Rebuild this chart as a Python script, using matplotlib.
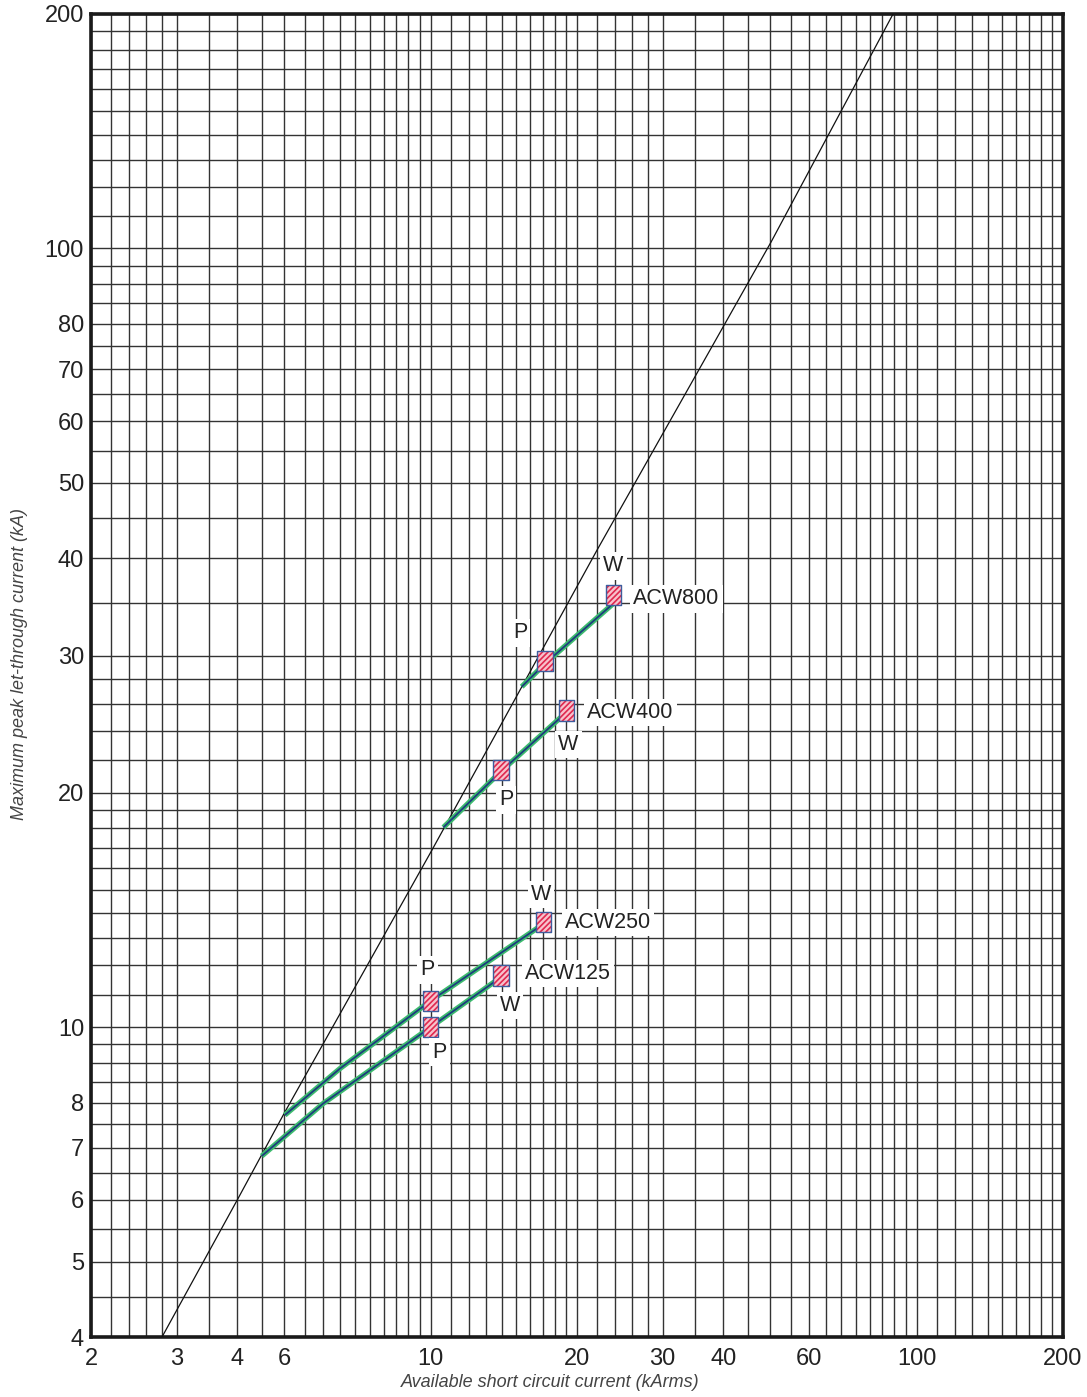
import numpy as np
import matplotlib
matplotlib.use('Agg')
import matplotlib.pyplot as plt
from matplotlib.ticker import FixedLocator, NullFormatter

plt.rcParams['font.family'] = ['Liberation Sans', 'DejaVu Sans']
plt.rcParams['hatch.color'] = '#e0284f'
plt.rcParams['hatch.linewidth'] = 1.2

# curva de pico asimetrico (linea diagonal)
diag_x = [2.8, 4.0, 5.0, 10.06, 22.0, 50.2, 89.4]
diag_y = [4.0, 6.0, 7.76, 16.88, 41.0, 102.0, 200.0]

# curvas de cada interruptor
nombres = ['ACW125', 'ACW250', 'ACW400', 'ACW800']
curva_x = [[4.49, 6.01, 10.0, 14.0],
           [5.01, 6.51, 10.0, 16.92],
           [10.62, 13.95, 19.06],
           [15.39, 17.19, 23.76]]
curva_y = [[6.83, 7.98, 10.0, 11.61],
           [7.71, 8.85, 10.81, 13.52],
           [18.05, 21.3, 25.4],
           [27.36, 29.3, 35.0]]

# puntos P y W
p_x = [10.0, 10.0, 13.95, 17.19]
p_y = [10.0, 10.81, 21.4, 29.54]
w_x = [13.95, 17.1, 19.0, 23.76]
w_y = [11.65, 13.66, 25.5, 35.9]

# ejes
x_ticks = [2, 3, 4, 5, 10, 20, 30, 40, 60, 100, 200]
x_ticklabels = ['2', '3', '4', '6', '10', '20', '30', '40', '60', '100', '200']
y_ticks = [4, 5, 6, 7, 8, 10, 20, 30, 40, 50, 60, 70, 80, 100, 200]

# lineas de la cuadricula
x_grid = np.concatenate([np.arange(2, 3, 0.2), np.arange(3, 10, 0.5), np.arange(10, 20, 1),
                         np.arange(20, 30, 2), np.arange(30, 100, 5), np.arange(100, 201, 10)])
y_grid = np.concatenate([np.arange(4, 10, 0.5), np.arange(10, 20, 1), np.arange(20, 30, 2),
                         np.arange(30, 100, 5), np.arange(100, 201, 10)])

# desplazamientos de los textos (pixeles, y hacia abajo)
off_nombre = [(24, -2), (21, 1), (21, 2), (20, 4)]
off_w = [(9, 30), (-3, -27), (2, 34), (0, -29)]
off_p = [(9, 25), (-3, -31), (5, 30), (-25, -28)]

fig = plt.figure(figsize=(10.87, 13.97), dpi=100)
ax = fig.add_axes([91/1087, 60/1397, 972/1087, 1323/1397])
ax.set_xscale('log')
ax.set_yscale('log')
ax.set_xlim(2, 200)
ax.set_ylim(4, 200)

ax.xaxis.set_major_locator(FixedLocator(x_ticks))
ax.set_xticklabels(x_ticklabels)
ax.yaxis.set_major_locator(FixedLocator(y_ticks))
ax.set_yticklabels([str(v) for v in y_ticks])
ax.xaxis.set_minor_locator(FixedLocator(x_grid))
ax.yaxis.set_minor_locator(FixedLocator(y_grid))
ax.xaxis.set_minor_formatter(NullFormatter())
ax.yaxis.set_minor_formatter(NullFormatter())
ax.tick_params(which='both', length=0, labelsize=17, colors='#222222')
ax.tick_params(axis='x', pad=8)
ax.tick_params(axis='y', pad=5)
ax.grid(which='both', color='#333333', linewidth=1.0)
ax.set_axisbelow(True)
for s in ax.spines.values():
    s.set_linewidth(2.6)
    s.set_color('#1a1a1a')

ax.plot(diag_x, diag_y, color='#111111', linewidth=0.9, zorder=3)

hatch_marker = [(-0.375, -0.5), (0.375, -0.5), (0.375, 0.5), (-0.375, 0.5), (-0.375, -0.5)]
for i in range(len(nombres)):
    ax.plot(curva_x[i], curva_y[i], color='#3dbb6e', linewidth=3.8, zorder=4, solid_capstyle='butt')
    ax.plot(curva_x[i], curva_y[i], color='#1d3c7e', linewidth=1.3, zorder=5, solid_capstyle='butt')

bx = p_x + w_x
by = p_y + w_y
ax.scatter(bx, by, marker=hatch_marker, s=210, facecolor='#f8c2cc', edgecolor='#e0284f',
           linewidth=0, hatch='//////', zorder=6)
ax.scatter(bx, by, marker=hatch_marker, s=210, facecolor='none', edgecolor='#3d5d9e',
           linewidth=1.0, zorder=7)

caja = dict(boxstyle='square,pad=0.15', fc='white', ec='none')
for i in range(len(nombres)):
    ax.annotate(nombres[i], (w_x[i], w_y[i]), xytext=(off_nombre[i][0], -off_nombre[i][1]),
                textcoords='offset pixels', ha='left', va='center', fontsize=15.5,
                color='#222222', bbox=caja, zorder=8)
    ax.annotate('W', (w_x[i], w_y[i]), xytext=(off_w[i][0], -off_w[i][1]),
                textcoords='offset pixels', ha='center', va='center', fontsize=15.5,
                color='#222222', bbox=caja, zorder=8)
    ax.annotate('P', (p_x[i], p_y[i]), xytext=(off_p[i][0], -off_p[i][1]),
                textcoords='offset pixels', ha='center', va='center', fontsize=15.5,
                color='#222222', bbox=caja, zorder=8)

ax.set_xlabel('Available short circuit current (kArms)', fontsize=13, style='italic', color='#444444')
ax.xaxis.set_label_coords(0.472, -0.028)
ax.set_ylabel('Maximum peak let-through current (kA)', fontsize=13, style='italic', color='#444444')
ax.yaxis.set_label_coords(-0.065, 0.509)

fig.savefig('out.png', dpi=100)
